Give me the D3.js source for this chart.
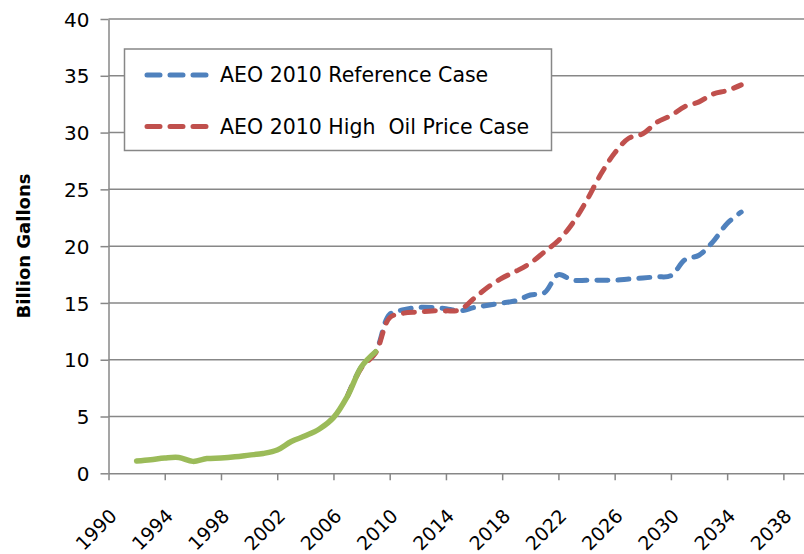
<!DOCTYPE html>
<html><head><meta charset="utf-8">
<script src="https://cdn.jsdelivr.net/npm/d3@7/dist/d3.min.js"></script>
<style>
html,body{margin:0;padding:0;background:#fff;}
svg{display:block;font-family:"DejaVu Sans",sans-serif;}
</style></head>
<body>
<svg id="chart" width="804" height="554"></svg>
<script>
// ---- data ----
const histYears = d3.range(1992, 2010);
const histValues = [1.08, 1.2, 1.35, 1.4, 1.05, 1.3, 1.35, 1.45, 1.6, 1.75, 2.05, 2.8, 3.3, 3.9, 4.9, 6.8, 9.4, 10.7];
const projYears = d3.range(2007, 2036);
const refValues = [6.8, 9.4, 10.7, 14.0, 14.4, 14.6, 14.6, 14.5, 14.3, 14.6, 14.8, 15.0, 15.2, 15.7, 15.9, 17.5, 17.0, 17.0, 17.0, 17.0, 17.1, 17.2, 17.3, 17.4, 18.8, 19.2, 20.4, 22.0, 23.0];
const highValues = [6.8, 9.3, 10.6, 13.7, 14.1, 14.2, 14.3, 14.3, 14.4, 15.4, 16.4, 17.2, 17.8, 18.5, 19.5, 20.5, 22.0, 24.0, 26.3, 28.2, 29.5, 29.9, 30.9, 31.5, 32.3, 32.7, 33.4, 33.7, 34.2];
const xTicks = [1990, 1994, 1998, 2002, 2006, 2010, 2014, 2018, 2022, 2026, 2030, 2034, 2038];
const yTicks = [0, 5, 10, 15, 20, 25, 30, 35, 40];
const seriesNames = ["AEO 2010 Reference Case", "AEO 2010 High  Oil Price Case"];
const yTitle = "Billion Gallons";

// ---- layout ----
const FONT = "DejaVu Sans";
const svg = d3.select("#chart");
const x = d3.scaleLinear().domain([1990, 2040]).range([108.5, 811.5]);
const y = d3.scaleLinear().domain([0, 40]).range([473.3, 19]);
const gridColor = "#878787";
const blue = "#4F81BD", red = "#C0504D", green = "#9BBB59";

// gridlines
svg.append("g").selectAll("line").data(yTicks.filter(d => d > 0)).join("line")
  .attr("x1", x(1990)).attr("x2", 804)
  .attr("y1", d => y(d)).attr("y2", d => y(d))
  .attr("stroke", gridColor).attr("stroke-width", 1.5);

// y axis
const yAxis = svg.append("g").attr("transform", `translate(${x(1990)},0)`)
  .call(d3.axisLeft(y).tickValues(yTicks).tickSize(8).tickPadding(11).tickSizeOuter(0));
yAxis.select(".domain").attr("stroke", gridColor).attr("stroke-width", 1.5);
yAxis.selectAll(".tick line").attr("stroke", gridColor).attr("stroke-width", 1.5);
yAxis.selectAll(".tick text").attr("font-size", 20).attr("fill", "#000").attr("font-family", FONT)
  .attr("dy", "0.36em");

// x axis
const xAxis = svg.append("g").attr("transform", `translate(0,${y(0)})`)
  .call(d3.axisBottom(x).tickValues(xTicks).tickSize(7).tickSizeOuter(0).tickFormat(d3.format("d")));
xAxis.select(".domain").attr("stroke", gridColor).attr("stroke-width", 1.5);
xAxis.selectAll(".tick line").attr("stroke", gridColor).attr("stroke-width", 1.5);
xAxis.selectAll(".tick text")
  .attr("font-size", 19).attr("fill", "#000").attr("font-family", FONT)
  .attr("text-anchor", "end").attr("dominant-baseline", "central")
  .attr("y", 0).attr("dy", 0)
  .attr("transform", "translate(4,39) rotate(-45)");

// y title
svg.append("text")
  .attr("transform", `translate(23,246) rotate(-90)`)
  .attr("text-anchor", "middle").attr("dominant-baseline", "central")
  .attr("font-weight", "bold").attr("font-size", 18).attr("font-family", FONT)
  .text(yTitle);

// lines
const line = d3.line().x(d => x(d[0])).y(d => y(d[1])).curve(d3.curveCatmullRom.alpha(0.5));
const refData = projYears.map((yr, i) => [yr, refValues[i]]);
const highData = projYears.map((yr, i) => [yr, highValues[i]]);
const histData = histYears.map((yr, i) => [yr, histValues[i]]);

svg.append("path").datum(refData).attr("d", line)
  .attr("fill", "none").attr("stroke", blue).attr("stroke-width", 5)
  .attr("stroke-linecap", "round").attr("stroke-dasharray", "11,10");
svg.append("path").datum(highData).attr("d", line)
  .attr("fill", "none").attr("stroke", red).attr("stroke-width", 5)
  .attr("stroke-linecap", "round").attr("stroke-dasharray", "11,10");
svg.append("path").datum(histData).attr("d", line)
  .attr("fill", "none").attr("stroke", green).attr("stroke-width", 5.5)
  .attr("stroke-linecap", "round").attr("stroke-linejoin", "round");

// legend
const lg = svg.append("g");
lg.append("rect").attr("x", 124.5).attr("y", 49).attr("width", 427).attr("height", 101.5)
  .attr("fill", "#fff").attr("stroke", gridColor).attr("stroke-width", 1.5);
const legColors = [blue, red];
const legY = [75, 126.5];
seriesNames.forEach((name, i) => {
  lg.append("line").attr("x1", 147).attr("x2", 207).attr("y1", legY[i]).attr("y2", legY[i])
    .attr("stroke", legColors[i]).attr("stroke-width", 5).attr("stroke-linecap", "round")
    .attr("stroke-dasharray", "13,10");
  lg.append("text").attr("x", 220).attr("y", legY[i]).attr("dy", "0.36em")
    .attr("font-size", 20.5).attr("font-family", FONT).style("white-space", "pre")
    .text(name);
});
</script>
</body></html>
